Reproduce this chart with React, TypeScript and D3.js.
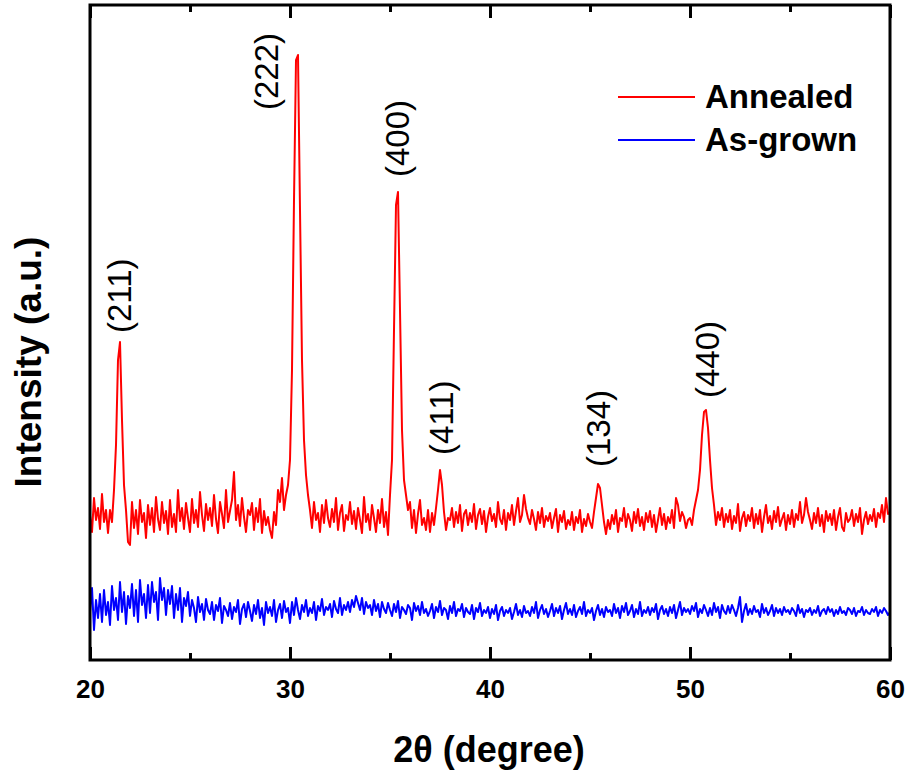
import React, { useEffect, useRef } from "react";
import * as d3 from "d3";

// 2θ sampling grid of the scan (degrees)
const thetaStart = 20;
const thetaStep = 0.1;

// Annealed film (arb. units, one row per degree)
const annealed = [
  145, 128, 162, 140, 152, 131, 166, 138, 150, 127,
  150, 138, 170, 215, 300, 318, 240, 175, 150, 118,
  115, 158, 132, 150, 126, 160, 138, 147, 122, 155,
  135, 152, 128, 163, 141, 130, 158, 137, 149, 126,
  160, 133, 146, 128, 170, 139, 152, 131, 157, 142,
  128, 161, 137, 150, 133, 168, 145, 129, 156, 140,
  152, 134, 165, 141, 127, 158, 146, 132, 170, 138,
  149, 160, 188, 140, 155, 134, 162, 143, 128, 150,
  145, 157, 130, 152, 138, 161, 127, 149, 135, 143,
  130, 122, 148, 135, 170, 158, 182, 150, 165, 175,
  200, 290, 460, 600, 605, 450, 300, 220, 185, 165,
  150, 132, 158, 140, 147, 128, 155, 137, 160, 142,
  133, 151, 138, 162, 130, 147, 155, 129, 145, 140,
  158, 136, 149, 131, 152, 140, 127, 163, 138, 146,
  130, 155, 142, 128, 150, 137, 161, 133, 148, 125,
  165, 200, 330, 455, 468, 350, 230, 180, 165, 150,
  158, 132, 150, 127, 146, 160, 135, 142, 130, 150,
  128, 147, 135, 152, 170, 190, 175, 148, 130, 142,
  140, 152, 133, 148, 137, 155, 129, 146, 150, 135,
  147, 138, 156, 131, 145, 151, 136, 149, 128, 143,
  152, 139, 146, 133, 158, 141, 136, 150, 130, 147,
  140, 155, 135, 149, 162, 138, 145, 165, 151, 142,
  136, 150, 141, 130, 148, 137, 152, 133, 144, 139,
  147, 132, 142, 151, 128, 145, 138, 149, 131, 140,
  135, 148, 130, 143, 137, 150, 128, 141, 134, 146,
  138, 132, 148, 162, 176, 172, 155, 138, 126, 140,
  131, 145, 136, 150, 128, 142, 139, 152, 133, 146,
  140, 129, 148, 137, 151, 134, 143, 130, 147, 138,
  149, 133, 145, 128, 140, 152, 135, 146, 131, 143,
  137, 150, 132, 162, 155, 139, 148, 143, 132, 140,
  142, 135, 150, 160, 170, 190, 225, 248, 250, 232,
  200, 172, 155, 135, 148, 140, 152, 133, 146, 138,
  150, 131, 144, 137, 156, 129, 142, 148, 134, 145,
  139, 152, 132, 146, 136, 150, 128, 143, 155, 137,
  144, 131, 149, 138, 153, 134, 141, 147, 130, 145,
  136, 150, 133, 146, 140, 158, 137, 145, 162, 148,
  140, 131, 147, 137, 152, 134, 145, 128, 149, 139,
  146, 135, 150, 130, 143, 152, 133, 129, 147, 138,
  141, 150, 134, 146, 138, 152, 126, 140, 148, 136,
  145, 139, 151, 133, 147, 142, 155, 138, 162, 146,
  148,
];

// As-grown film
const asGrown = [
  48, 72, 30, 60, 42, 66, 38, 70, 45, 58,
  35, 74, 50, 62, 40, 78, 48, 68, 36, 64,
  52, 76, 44, 70, 38, 80, 55, 66, 42, 75,
  47, 78, 58, 68, 40, 82, 60, 72, 45, 70,
  56, 74, 42, 66, 50, 72, 38, 62, 54, 68,
  44, 60, 52, 38, 63, 48, 56, 40, 61, 50,
  46, 58, 40, 55, 49, 62, 37, 54, 50, 44,
  57, 41, 53, 48, 60, 36, 51, 56, 43, 58,
  49, 39, 55, 46, 60, 42, 52, 35, 58, 47,
  53, 44, 60, 38, 50, 56, 42, 59, 48, 52,
  37, 58, 45, 62, 50, 41, 55, 48, 60, 44,
  52, 47, 58, 40, 54, 49, 61, 45, 53, 50,
  56, 43, 59, 51, 47, 62, 45, 55, 50, 58,
  48, 60, 53, 64, 57, 50, 62, 46, 58, 52,
  55, 45, 60, 49, 56, 43, 58, 51, 47, 57,
  50, 44, 56, 48, 59, 42, 53, 50, 46, 55,
  52, 40, 57, 49, 54, 45, 58, 47, 51, 44,
  49, 56, 42, 53, 48, 59, 45, 52, 50, 41,
  54, 47, 58, 44, 51, 49, 56, 43, 52, 48,
  46, 55, 41, 52, 48, 57, 44, 50, 47, 53,
  42, 51, 46, 55, 40, 49, 53, 44, 50, 47,
  52, 41, 48, 56, 45, 50, 43, 54, 47, 49,
  44, 53, 47, 58, 42, 50, 55, 46, 51, 43,
  49, 56, 44, 52, 47, 54, 41, 50, 57, 46,
  51, 45, 55, 43, 49, 53, 46, 58, 44, 50,
  47, 52, 40, 49, 55, 45, 51, 43, 53, 48,
  50, 44, 56, 47, 52, 42, 54, 48, 57, 45,
  49, 55, 43, 51, 46, 58, 44, 50, 47, 53,
  45, 52, 48, 56, 41, 50, 54, 46, 51, 44,
  53, 47, 55, 42, 50, 58, 45, 52, 48, 51,
  46, 54, 49, 57, 43, 51, 47, 55, 50, 44,
  52, 45, 57, 48, 53, 42, 55, 49, 46, 54,
  47, 55, 50, 44, 52, 63, 38, 49, 56, 45,
  51, 46, 54, 48, 50, 43, 56, 47, 52, 45,
  49, 55, 44, 52, 47, 51, 45, 53, 48, 50,
  46, 52, 49, 44, 55, 47, 51, 43, 50, 48,
  52, 45, 50, 47, 54, 44, 49, 51, 46, 53,
  48, 51, 44, 50, 46, 53, 47, 49, 45, 52,
  50, 46, 52, 44, 49, 48, 53, 45, 50, 47,
  46, 51, 48, 53, 44, 50, 47, 52, 49, 45,
  48,
];

// peak labels: text, 2θ of the label, intensity where the label starts
const peakNames = ["(211)", "(222)", "(400)", "(411)", "(134)", "(440)"];
const peakTheta = [21.45, 28.8, 35.35, 37.55, 45.4, 50.85];
const peakLabelY = [327, 550, 483, 205, 193, 262];

const majorTicks = [20, 30, 40, 50, 60];
const minorTicks = [25, 35, 45, 55];

const seriesNames = ["Annealed", "As-grown"];
const seriesColors = ["#ff0000", "#0000ff"];

const FONT = "'Liberation Sans', Arial, Helvetica, sans-serif";

const XrdChart = () => {
  const svgRef = useRef<SVGSVGElement>(null);

  useEffect(() => {
    const svg = d3.select(svgRef.current);
    svg.selectAll("*").remove();

    const margin = { top: 5, right: 20, bottom: 114, left: 90 };
    const width = 910 - margin.left - margin.right;
    const height = 774 - margin.top - margin.bottom;

    const x = d3.scaleLinear().domain([20, 60]).range([0, width]);
    const y = d3.scaleLinear().domain([0, height]).range([height, 0]);

    const g = svg
      .append("g")
      .attr("transform", `translate(${margin.left}, ${margin.top})`);

    const line = d3
      .line<number>()
      .x((d, i) => x(thetaStart + i * thetaStep))
      .y((d) => y(d));

    [annealed, asGrown].forEach((s, k) => {
      g.append("path")
        .datum(s)
        .attr("fill", "none")
        .attr("stroke", seriesColors[k])
        .attr("stroke-width", 2)
        .attr("stroke-linejoin", "round")
        .attr("d", line);
    });

    // frame
    g.append("rect")
      .attr("width", width)
      .attr("height", height)
      .attr("fill", "none")
      .attr("stroke", "#000")
      .attr("stroke-width", 3);

    // ticks (inward), bottom with labels, top without
    const styleAxis = (sel) => {
      sel.select(".domain").remove();
      sel.selectAll("line").attr("stroke", "#000").attr("stroke-width", 3);
    };

    g.append("g")
      .attr("transform", `translate(0, ${height})`)
      .call(d3.axisBottom(x).tickValues(majorTicks).tickSize(-13).tickPadding(20).tickFormat(d3.format("d")))
      .call(styleAxis)
      .selectAll("text")
      .attr("font-family", FONT)
      .attr("font-size", 26)
      .attr("font-weight", "bold")
      .attr("fill", "#000");

    g.append("g")
      .attr("transform", `translate(0, ${height})`)
      .call(d3.axisBottom(x).tickValues(minorTicks).tickSize(-7).tickFormat(() => ""))
      .call(styleAxis);

    g.append("g")
      .call(d3.axisTop(x).tickValues(majorTicks).tickSize(-13).tickFormat(() => ""))
      .call(styleAxis);

    g.append("g")
      .call(d3.axisTop(x).tickValues(minorTicks).tickSize(-7).tickFormat(() => ""))
      .call(styleAxis);

    // peak labels
    peakNames.forEach((name, i) => {
      g.append("text")
        .attr("transform", `translate(${x(peakTheta[i])}, ${y(peakLabelY[i])}) rotate(-90)`)
        .attr("text-anchor", "start")
        .attr("dominant-baseline", "central")
        .attr("font-family", FONT)
        .attr("font-size", 33)
        .attr("fill", "#000")
        .text(name);
    });

    // legend
    seriesNames.forEach((name, k) => {
      const ly = 92 + k * 43;
      g.append("line")
        .attr("x1", 528)
        .attr("x2", 605)
        .attr("y1", ly)
        .attr("y2", ly)
        .attr("stroke", seriesColors[k])
        .attr("stroke-width", 2);
      g.append("text")
        .attr("x", 615)
        .attr("y", ly + 11)
        .attr("font-family", FONT)
        .attr("font-size", 33)
        .attr("font-weight", "bold")
        .attr("fill", "#000")
        .text(name);
    });

    // axis titles
    svg
      .append("text")
      .attr("x", margin.left + width / 2 - 1)
      .attr("y", 762)
      .attr("text-anchor", "middle")
      .attr("font-family", FONT)
      .attr("font-size", 36)
      .attr("font-weight", "bold")
      .attr("fill", "#000")
      .text("2θ (degree)");

    svg
      .append("text")
      .attr("transform", "translate(28, 362) rotate(-90)")
      .attr("text-anchor", "middle")
      .attr("dominant-baseline", "central")
      .attr("font-family", FONT)
      .attr("font-size", 37)
      .attr("font-weight", "bold")
      .attr("fill", "#000")
      .text("Intensity (a.u.)");
  }, []);

  return (
    <svg
      ref={svgRef}
      width={910}
      height={774}
      style={{ position: "absolute", left: 0, top: 0, background: "#fff" }}
    ></svg>
  );
};

export default function App() {
  return <XrdChart />;
}
